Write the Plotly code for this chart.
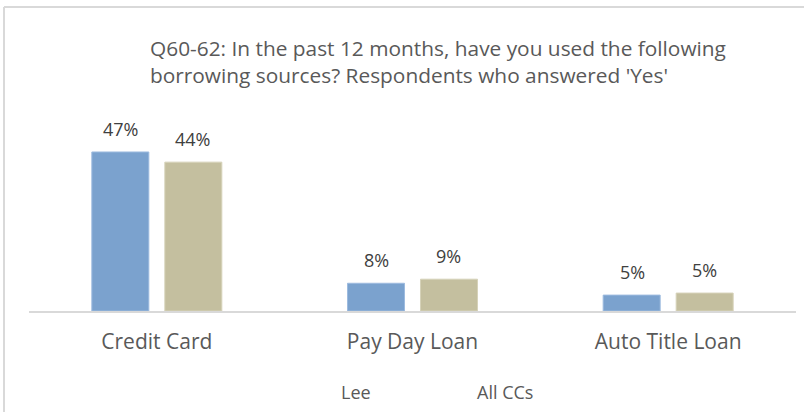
import plotly.graph_objects as go

categories = ["Credit Card", "Pay Day Loan", "Auto Title Loan"]
lee_values = [47, 8.2, 4.7]
allccs_values = [44, 9.4, 5.3]
lee_labels = ["47%", "8%", "5%"]
allccs_labels = ["44%", "9%", "5%"]
series_names = ["Lee", "All CCs"]
title_lines = ["Q60-62: In the past 12 months, have you used the following",
               "borrowing sources? Respondents who answered 'Yes'"]

BLUE = "#7BA2CE"
TAN = "#C4BF9F"
TEXT = "#595959"
FONT = "Open Sans"

W, H = 804, 412
ML, MR, MT, MB = 29, 8, 108, 101
PW, PH = W - ML - MR, H - MT - MB

def px_x(px):
    return (px - ML) / PW

def px_y(py):
    return (H - MB - py) / PH

fig = go.Figure()
fig.add_trace(go.Bar(x=categories, y=lee_values, name=series_names[0],
                     marker=dict(color=BLUE, line=dict(color="#9DBBDF", width=1))))
fig.add_trace(go.Bar(x=categories, y=allccs_values, name=series_names[1],
                     marker=dict(color=TAN, line=dict(color="#D6D2B9", width=1))))

annotations = []
for i, c in enumerate(categories):
    annotations.append(dict(x=c, y=lee_values[i], xref="x", yref="y", text=lee_labels[i],
                            showarrow=False, xshift=-36, yshift=9, yanchor="bottom",
                            font=dict(family=FONT, size=18, color="#404040")))
    annotations.append(dict(x=c, y=allccs_values[i], xref="x", yref="y", text=allccs_labels[i],
                            showarrow=False, xshift=36, yshift=9, yanchor="bottom",
                            font=dict(family=FONT, size=18, color="#404040")))

annotations.append(dict(x=px_x(148), y=px_y(48), xref="paper", yref="paper", text=title_lines[0],
                        showarrow=False, xanchor="left", yanchor="middle",
                        font=dict(family=FONT, size=20.85, color=TEXT)))
annotations.append(dict(x=px_x(148), y=px_y(75), xref="paper", yref="paper", text=title_lines[1],
                        showarrow=False, xanchor="left", yanchor="middle",
                        font=dict(family=FONT, size=20.85, color=TEXT)))
annotations.append(dict(x=px_x(339), y=px_y(392), xref="paper", yref="paper", text=series_names[0],
                        showarrow=False, xanchor="left", yanchor="middle",
                        font=dict(family=FONT, size=18, color=TEXT)))
annotations.append(dict(x=px_x(475), y=px_y(392), xref="paper", yref="paper", text=series_names[1],
                        showarrow=False, xanchor="left", yanchor="middle",
                        font=dict(family=FONT, size=18, color=TEXT)))

shapes = [
    dict(type="line", xref="paper", yref="paper", x0=px_x(4), x1=px_x(4), y0=px_y(7), y1=px_y(420),
         line=dict(color="#D9D9D9", width=2)),
    dict(type="line", xref="paper", yref="paper", x0=px_x(4), x1=px_x(810), y0=px_y(7), y1=px_y(7),
         line=dict(color="#D9D9D9", width=2)),
]

fig.update_layout(
    width=W, height=H,
    margin=dict(l=ML, r=MR, t=MT, b=MB, pad=0),
    paper_bgcolor="white", plot_bgcolor="white",
    barmode="group", bargap=0.429, bargroupgap=0.219,
    showlegend=False,
    annotations=annotations, shapes=shapes,
    xaxis=dict(showline=True, linecolor="#D9D9D9", linewidth=1.5, showgrid=False,
               ticks="", ticklabelstandoff=11,
               tickfont=dict(family=FONT, size=21, color=TEXT)),
    yaxis=dict(range=[0, 60], visible=False, showgrid=False, zeroline=False),
)

fig.write_html("out.html", config={"displayModeBar": False},
               post_script="document.body.style.margin='0';document.body.style.padding='0';")
